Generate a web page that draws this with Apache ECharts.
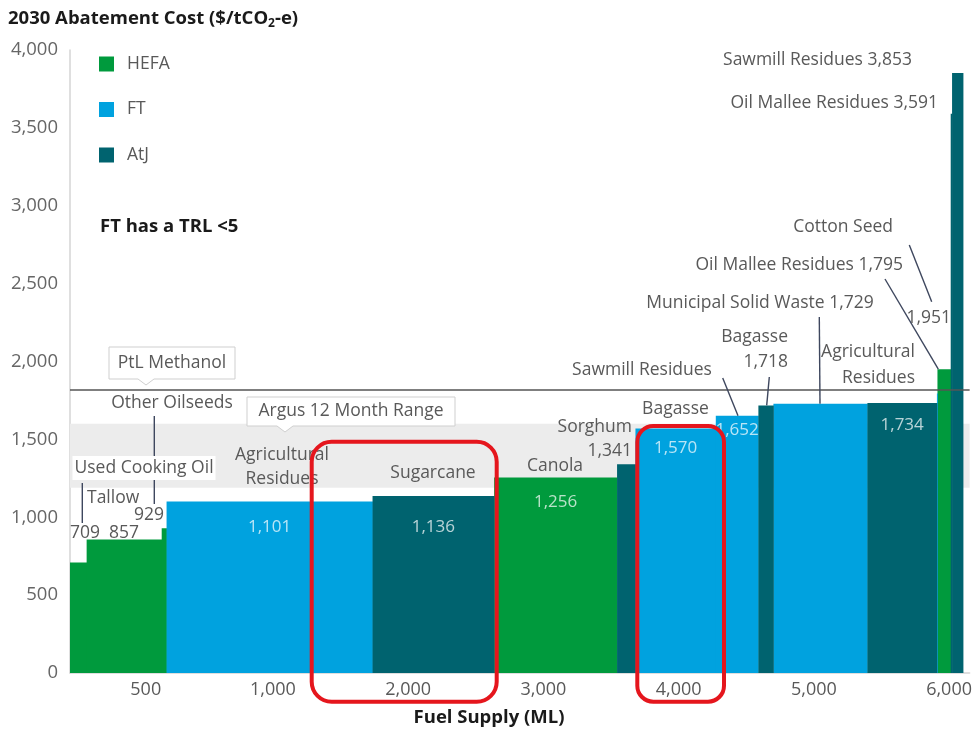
<!DOCTYPE html>
<html><head><meta charset="utf-8">
<script src="https://cdn.jsdelivr.net/npm/echarts@6/dist/echarts.min.js"></script>
<style>html,body{margin:0;padding:0;background:#fff}#c{width:975px;height:731px}</style>
</head><body><div id="c"></div>
<script>
// ---------- DATA ----------
const feedstocks = ['Used Cooking Oil','Tallow','Other Oilseeds','Agricultural Residues','Sugarcane','Canola','Sorghum','Bagasse','Sawmill Residues','Bagasse','Municipal Solid Waste','Agricultural Residues','Oil Mallee Residues','Cotton Seed','Oil Mallee Residues','Sawmill Residues'];
const pathways = ['HEFA','HEFA','HEFA','FT','AtJ','HEFA','AtJ','FT','FT','AtJ','FT','AtJ','FT','HEFA','AtJ','AtJ'];
const fuelSupply = [123,555,36,1523,899,909,136,594,315,111,695,514,4,98,10,81];       // ML (bar widths)
const abatementCost = [709,857,929,1101,1136,1256,1341,1570,1652,1718,1729,1734,1795,1951,3591,3853]; // $/tCO2-e
const pathwayNames = ['HEFA','FT','AtJ'];
const xTickValues = [560,1500,2500,3500,4500,5500,6500];
const xTickLabels = ['500','1,000','2,000','3,000','4,000','5,000','6,000'];
const argusRange = [1190,1600];
const ptlMethanol = 1816;
const xMax = 6652;

// ---------- STYLE ----------
const FONT = "'Open Sans', sans-serif";
const TXT = '#595959';
const LEAD = '#3e475e';
const FS = 17.5;
const BFS = 18.5;
const colorMap = {HEFA:'#009a3d', FT:'#00a2df', AtJ:'#00636f'};
const innerLabelOffset = {3:26, 4:31, 5:25, 7:20, 8:14, 11:22};
const fmt = v => v.toLocaleString('en-US');

const starts = []; let acc = 0;
fuelSupply.forEach(w => { starts.push(acc); acc += w; });

function seriesData(p){
  return abatementCost.map((v,i) => pathways[i]===p ? [starts[i], starts[i]+fuelSupply[i], v, i] : null).filter(Boolean);
}
function renderBar(params, api){
  const x0=api.value(0), x1=api.value(1), v=api.value(2), idx=api.value(3);
  const tl=api.coord([x0,v]), br=api.coord([x1,0]);
  const children=[{type:'rect', shape:{x:tl[0], y:tl[1], width:Math.max(br[0]-tl[0],0)+0.4, height:br[1]-tl[1]}, style:{fill:api.visual('color')}}];
  if (innerLabelOffset[idx] !== undefined) {
    children.push({type:'text', style:{text: fmt(v), x:(tl[0]+br[0])/2, y: tl[1]+innerLabelOffset[idx], align:'center', verticalAlign:'middle', fill:'rgba(255,255,255,0.72)', fontSize:17, fontFamily:FONT}});
  }
  return {type:'group', children};
}

const chart = echarts.init(document.getElementById('c'), null, {renderer:'canvas'});
const option = {
  animation:false,
  textStyle:{fontFamily:FONT},
  grid:{left:70, right:5, top:50, bottom:58},
  legend:{
    data:pathwayNames, orient:'vertical', left:99, top:55, padding:0,
    itemWidth:15, itemHeight:15, itemGap:27.5, icon:'rect',
    textStyle:{fontSize:FS, color:TXT, fontFamily:FONT, padding:[0,0,0,8]}
  },
  xAxis:{
    type:'value', min:0, max:xMax,
    axisLine:{show:true, lineStyle:{color:'#d4d4d4', width:1.5}},
    axisTick:{show:false}, splitLine:{show:false},
    axisLabel:{customValues:xTickValues, formatter:v => xTickLabels[xTickValues.indexOf(v)] || '', color:TXT, fontSize:18, margin:8, fontFamily:FONT}
  },
  yAxis:{
    type:'value', min:0, max:4000, interval:500,
    axisLine:{show:true, lineStyle:{color:'#d4d4d4', width:1.5}},
    axisTick:{show:false}, splitLine:{show:false},
    axisLabel:{formatter:v => fmt(v), color:'#666', fontSize:18.5, margin:12, fontFamily:FONT}
  },
  series:[
    {
      type:'custom', name:'ref', z:1, data:[], renderItem:()=>null, silent:true,
      markArea:{silent:true, itemStyle:{color:'#ececec'}, data:[[{xAxis:0, yAxis:argusRange[0]},{xAxis:xMax, yAxis:argusRange[1]}]]},
      markLine:{silent:true, symbol:'none', label:{show:false}, lineStyle:{color:'#555', width:1.5, type:'solid'}, data:[{yAxis:ptlMethanol}]}
    },
    ...pathwayNames.map(p => ({
      type:'custom', name:p, z:2, itemStyle:{color:colorMap[p]}, color:colorMap[p],
      encode:{x:[0,1], y:2}, data:seriesData(p), renderItem:renderBar
    }))
  ]
};
chart.setOption(option);

// ---------- ANNOTATIONS ----------
function px(xv, yv){ return chart.convertToPixel({gridIndex:0}, [xv, yv]); }
function barTopY(i){ return px(starts[i], abatementCost[i])[1]; }

function txt(text, x, y, align, extra){
  return {type:'text', z:100, style:Object.assign({text, x, y, align:align||'center', verticalAlign:'middle', fill:TXT, fontSize:FS, fontFamily:FONT}, extra||{})};
}
function line(x1,y1,x2,y2,z){ return {type:'line', z:z||99, shape:{x1,y1,x2,y2}, style:{stroke:LEAD, lineWidth:1.4}}; }
function callout(x0,x1,y0,y1,px0,tipY){
  return {type:'polygon', z:100, shape:{points:[[x0,y0],[x1,y0],[x1,y1],[px0+8,y1],[px0,tipY],[px0-8,y1],[x0,y1]]}, style:{fill:'#fff', stroke:'#cfcfcf', lineWidth:1}};
}
function redBox(x0,y0,x1,y1,r){ return {type:'rect', z:120, shape:{x:x0, y:y0, width:x1-x0, height:y1-y0, r}, style:{fill:'none', stroke:'#e5161d', lineWidth:4}}; }

const g = [];
// title & axis name
g.push({type:'text', z:100, style:{x:8, y:19, verticalAlign:'middle', text:'{b|2030 Abatement Cost ($/tCO}{s|2}{b|-e)}', rich:{b:{fontSize:BFS, fontWeight:'bold', fill:'#1a1a1a', fontFamily:FONT}, s:{fontSize:12, fontWeight:'bold', fill:'#1a1a1a', fontFamily:FONT, padding:[9,0,0,0]}}}});
g.push(txt('Fuel Supply (ML)', 489, 718, 'center', {fontWeight:'bold', fill:'#1a1a1a', fontSize:BFS}));
g.push(txt('FT has a TRL <5', 100, 227, 'left', {fontWeight:'bold', fill:'#1a1a1a', fontSize:BFS}));

// reference callouts
g.push(callout(109,235,347,379,146,385));
g.push(txt('PtL Methanol', 172, 363));
g.push(callout(247,455,397,426,285,432));
g.push(txt('Argus 12 Month Range', 351, 411.5));

// left side labels
g.push(line(154.3,416,154.3,504));
g.push(line(82.3,483,82.3,523));
g.push(txt('Used Cooking Oil', 144, 468, 'center', {backgroundColor:'#fff', padding:[3,2,3,2]}));
g.push(txt('Tallow', 87, 498, 'left'));
g.push(txt(fmt(abatementCost[0]), 70, 533, 'left'));
g.push(txt(fmt(abatementCost[1]), 109, 533, 'left'));
g.push(txt(fmt(abatementCost[2]), 134, 515, 'left'));
g.push(txt('Other Oilseeds', 172, 403));
g.push(txt('Agricultural\nResidues', 282, 467, 'center', {lineHeight:24}));
g.push(txt('Sugarcane', 433, 473));
g.push(txt('Canola', 555, 466));
g.push(txt('Sorghum\n' + fmt(abatementCost[6]), 632, 439, 'right', {lineHeight:24}));
g.push(txt('Bagasse', 675.5, 409));
g.push(txt('Sawmill Residues', 642, 370));
g.push(line(722.7,378,738,barTopY(8)));
g.push(txt('Bagasse\n' + fmt(abatementCost[9]), 788, 349.5, 'right', {lineHeight:24.4}));
g.push(line(769.3,377,766.7,barTopY(9)));
g.push(txt('Municipal Solid Waste ' + fmt(abatementCost[10]), 760, 303));
g.push(line(819.3,317,820,barTopY(10)));
g.push(txt('Agricultural\nResidues', 915, 364.7, 'right', {lineHeight:26}));
g.push(txt('Oil Mallee Residues ' + fmt(abatementCost[12]), 903, 265, 'right'));
g.push(line(885,279,938.3,barTopY(13)));
g.push(txt('Cotton Seed', 893, 227, 'right'));
g.push(line(909.3,245,931.7,301.7));
g.push(txt(fmt(abatementCost[13]), 951, 317.7, 'right'));
g.push(txt('Sawmill Residues ' + fmt(abatementCost[15]), 912, 60, 'right'));
g.push(txt('Oil Mallee Residues ' + fmt(abatementCost[14]), 938, 103, 'right'));

// highlight boxes
g.push(redBox(311.7,441.7,496.7,701.7,20));
g.push(redBox(637.3,426,724,701.7,16));

chart.setOption({graphic:{elements:g}});
</script>
</body></html>
